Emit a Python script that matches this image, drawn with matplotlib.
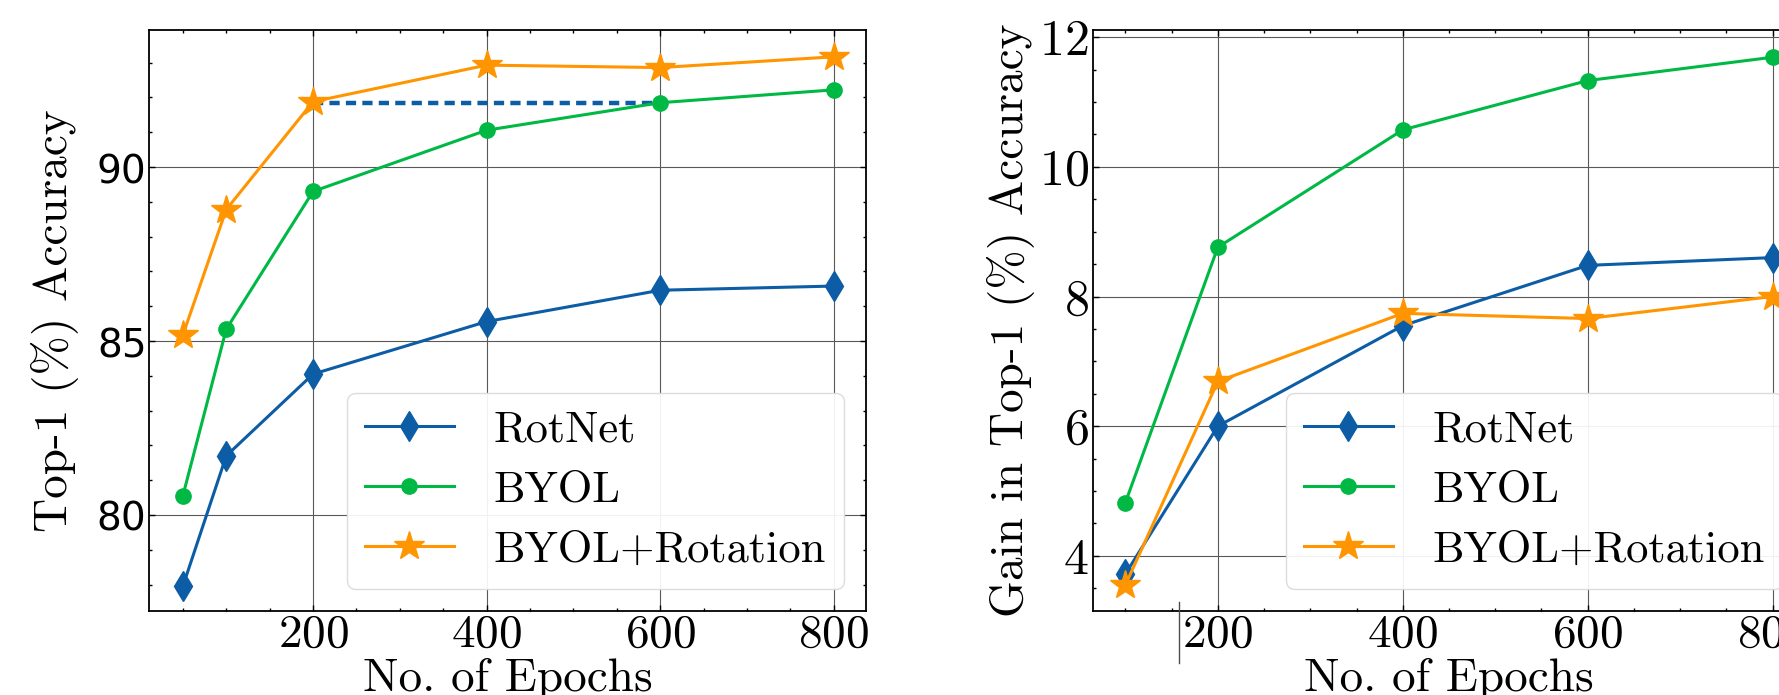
import matplotlib
matplotlib.use('Agg')
import matplotlib.pyplot as plt
from matplotlib.ticker import MultipleLocator
from matplotlib.lines import Line2D

# left panel: top-1 accuracy
epochs_left = [50, 100, 200, 400, 600, 800]
rotnet_acc = [77.95, 81.7, 84.05, 85.56, 86.46, 86.58]
byol_acc = [80.55, 85.34, 89.3, 91.06, 91.85, 92.22]
byol_rot_acc = [85.17, 88.78, 91.88, 92.93, 92.86, 93.17]

# right panel: gain in top-1 accuracy
epochs_right = [100, 200, 400, 600, 800]
rotnet_gain = [3.72, 6.0, 7.55, 8.48, 8.6]
byol_gain = [4.82, 8.76, 10.57, 11.33, 11.69]
byol_rot_gain = [3.55, 6.69, 7.74, 7.66, 8.0]

labels = ['RotNet', 'BYOL', 'BYOL+Rotation']
colors = ['#0C5DA5', '#00B945', '#FF9500']
markers = ['d', 'o', '*']
msizes = [15, 11, 22]
xticks = [200, 400, 600, 800]

plt.rcParams['font.family'] = 'serif'
plt.rcParams['font.serif'] = ['cmr10', 'DejaVu Serif']
plt.rcParams['mathtext.fontset'] = 'cm'
plt.rcParams['axes.formatter.use_mathtext'] = True
plt.rcParams['font.size'] = 34

fig = plt.figure(figsize=(17.79, 6.95), dpi=100)
ax1 = fig.add_axes([149 / 1779, 1 - 611 / 695, 717 / 1779, 581 / 695])
ax2 = fig.add_axes([1093 / 1779, 1 - 611 / 695, 712 / 1779, 581 / 695])


def style_axes(ax, ymin_step):
    ax.xaxis.set_major_locator(plt.FixedLocator(xticks))
    ax.xaxis.set_minor_locator(MultipleLocator(50))
    ax.yaxis.set_minor_locator(MultipleLocator(ymin_step))
    ax.tick_params(which='both', direction='in', top=True, right=True, width=1)
    ax.tick_params(which='major', length=4, labelsize=34)
    ax.tick_params(which='minor', length=2)
    ax.tick_params(axis='x', pad=2)
    ax.grid(True, color='0.35', lw=0.8)
    for s in ax.spines.values():
        s.set_linewidth(1.3)


def draw(ax, x, series):
    for ys, lab, c, m, ms in zip(series, labels, colors, markers, msizes):
        ax.plot(x, ys, color=c, marker=m, markersize=ms, lw=2.2, label=lab, zorder=3)
    leg = ax.legend(loc='lower right', fontsize=32, handlelength=2.0,
                    handletextpad=0.9, labelspacing=0.45, borderpad=0.4,
                    borderaxespad=0.5, framealpha=0.92, edgecolor='0.85')
    leg.set_zorder(5)


# left
draw(ax1, epochs_left, [rotnet_acc, byol_acc, byol_rot_acc])
ax1.hlines(byol_acc[4], epochs_left[2], epochs_left[4], colors=colors[0],
           linestyles=(0, (2.3, 1.4)), lw=3.2, zorder=2)
ax1.set_xlim(11, 837)
ax1.set_ylim(77.24, 93.94)
ax1.set_yticks([80, 85, 90])
style_axes(ax1, 1)
ax1.tick_params(axis='y', pad=3)
for t in ax1.get_yticklabels():
    t.set_fontfamily('DejaVu Sans')
    t.set_fontsize(28)
ax1.set_xlabel('No. of Epochs')
ax1.set_ylabel('Top-1 (%) Accuracy')
ax1.xaxis.set_label_coords(0.5, -0.08)
ax1.yaxis.set_label_coords(-0.098, 0.5)

# right
draw(ax2, epochs_right, [rotnet_gain, byol_gain, byol_rot_gain])
ax2.set_xlim(65, 835)
ax2.set_ylim(3.15, 12.11)
ax2.set_yticks([4, 6, 8, 10, 12])
style_axes(ax2, 0.5)
ax2.tick_params(axis='y', pad=3, labelsize=36)
ax2.set_xlabel('No. of Epochs')
ax2.set_ylabel('Gain in Top-1 (%) Accuracy')
ax2.xaxis.set_label_coords(0.5, -0.08)
ax2.yaxis.set_label_coords(-0.082, 0.5)

# stray vertical mark near the right panel's 200 label
fig.add_artist(Line2D([1179 / 1779, 1179 / 1779], [1 - 602 / 695, 1 - 663 / 695],
                      transform=fig.transFigure, color='0.3', lw=1))

fig.savefig('out.png', dpi=100)
